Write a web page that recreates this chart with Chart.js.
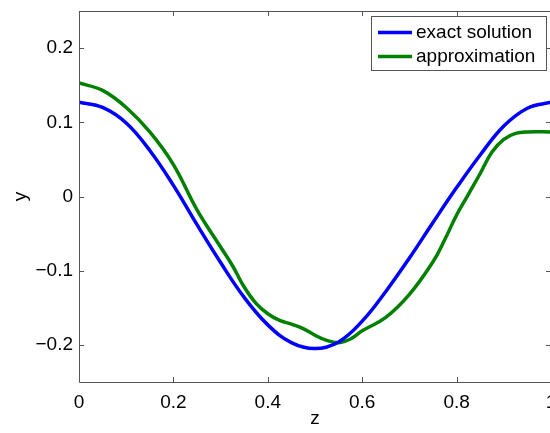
<!DOCTYPE html>
<html>
<head>
<meta charset="utf-8">
<script src="https://cdn.jsdelivr.net/npm/chart.js@4/dist/chart.umd.min.js"></script>
<style>
  html, body { margin: 0; padding: 0; background: #fff; overflow: hidden; }
  #wrap { width: 560px; height: 433px; }
</style>
</head>
<body>
<div id="wrap"><canvas id="chart" width="560" height="433"></canvas></div>
<script>
// ---- data ----
const seriesNames = ['exact solution', 'approximation'];

const zExact = [0, 0.05, 0.1, 0.15, 0.2, 0.25, 0.3, 0.35, 0.4, 0.45, 0.5,
                0.55, 0.6, 0.65, 0.7, 0.75, 0.8, 0.85, 0.9, 0.95, 1];
const yExact = [0.127, 0.120, 0.099, 0.062, 0.015, -0.038, -0.089, -0.136, -0.173, -0.197, -0.205,
                -0.196, -0.168, -0.128, -0.083, -0.035, 0.012, 0.056, 0.095, 0.119, 0.127];

const zApprox = [0, 0.05, 0.1, 0.15, 0.2, 0.25, 0.3, 0.325, 0.35, 0.375, 0.4, 0.425, 0.45, 0.475,
                 0.5, 0.525, 0.55, 0.575, 0.6, 0.65, 0.7, 0.75, 0.775, 0.8, 0.825, 0.85, 0.875, 0.9, 0.925, 0.95, 1];
const yApprox = [0.153, 0.143, 0.120, 0.087, 0.043, -0.018, -0.068, -0.093, -0.122, -0.144, -0.158, -0.167, -0.172, -0.178,
                 -0.187, -0.194, -0.197, -0.192, -0.181, -0.163, -0.132, -0.088, -0.058, -0.025, 0.003, 0.031, 0.060, 0.077, 0.085, 0.087, 0.087];

const xTicks = [0, 0.2, 0.4, 0.6, 0.8, 1];
const yTicks = [-0.2, -0.1, 0, 0.1, 0.2];
const xTitle = 'z';
const yTitle = 'y';

const FONT = '"Liberation Sans", Arial, Helvetica, sans-serif';
const FSIZE = 19;

function fmt(v) {
  const s = String(+v.toFixed(2));
  return v < 0 ? '\u2212' + s.slice(1) : s;
}

// MATLAB style box, inward ticks, axis titles and legend
const matlabBox = {
  id: 'matlabBox',
  afterDraw(chart) {
    const { ctx, chartArea: a, scales } = chart;
    const xs = scales.x, ys = scales.y;
    const t = 5;
    ctx.save();
    ctx.strokeStyle = '#555';
    ctx.lineWidth = 1;
    ctx.beginPath();
    ctx.rect(a.left + 0.5, a.top + 0.5, a.right - a.left, a.bottom - a.top);
    xTicks.forEach(v => {
      const px = Math.round(xs.getPixelForValue(v)) + 0.5;
      ctx.moveTo(px, a.bottom); ctx.lineTo(px, a.bottom - t);
      ctx.moveTo(px, a.top);    ctx.lineTo(px, a.top + t);
    });
    yTicks.forEach(v => {
      const py = Math.round(ys.getPixelForValue(v)) + 0.5;
      ctx.moveTo(a.left, py);  ctx.lineTo(a.left + t, py);
      ctx.moveTo(a.right, py); ctx.lineTo(a.right - t, py);
    });
    ctx.stroke();

    // axis titles
    ctx.fillStyle = '#000';
    ctx.font = FSIZE + 'px ' + FONT;
    ctx.textAlign = 'center';
    ctx.textBaseline = 'middle';
    ctx.fillText(xTitle, xs.getPixelForValue(0.5), 419);
    ctx.save();
    ctx.translate(21, ys.getPixelForValue(0));
    ctx.rotate(-Math.PI / 2);
    ctx.fillText(yTitle, 0, 0);
    ctx.restore();

    // legend
    const lx = 371, ly = 16, lw = 175, lh = 54;
    ctx.fillStyle = '#fff';
    ctx.fillRect(lx, ly, lw, lh);
    ctx.strokeStyle = '#555';
    ctx.strokeRect(lx + 0.5, ly + 0.5, lw, lh);
    ctx.textAlign = 'left';
    chart.data.datasets.forEach((ds, i) => {
      const y = 32.5 + i * 24;
      ctx.strokeStyle = ds.borderColor;
      ctx.lineWidth = 3.5;
      ctx.beginPath();
      ctx.moveTo(378, y); ctx.lineTo(412, y);
      ctx.stroke();
      ctx.fillStyle = '#000';
      ctx.fillText(ds.label, 416, y);
    });
    ctx.restore();
  }
};

new Chart(document.getElementById('chart'), {
  type: 'line',
  data: {
    datasets: [
      {
        label: seriesNames[0],
        data: zExact.map((z, i) => ({ x: z, y: yExact[i] })),
        borderColor: '#0000ff',
        borderWidth: 3.5,
        pointRadius: 0,
        tension: 0.4,
        fill: false
      },
      {
        label: seriesNames[1],
        data: zApprox.map((z, i) => ({ x: z, y: yApprox[i] })),
        borderColor: '#008000',
        borderWidth: 3.5,
        pointRadius: 0,
        tension: 0.4,
        fill: false
      }
    ]
  },
  options: {
    responsive: false,
    animation: false,
    devicePixelRatio: 1,
    layout: { autoPadding: false, padding: { top: 11, right: 9, left: 0, bottom: 0 } },
    plugins: { legend: { display: false }, tooltip: { enabled: false } },
    scales: {
      x: {
        type: 'linear',
        min: 0, max: 1,
        afterBuildTicks: s => { s.ticks = xTicks.map(v => ({ value: v })); },
        afterFit: s => { s.height = 51; s.paddingLeft = 0; s.paddingRight = 0; },
        grid: { display: false, drawTicks: false },
        border: { display: false },
        ticks: {
          padding: 9,
          color: '#000',
          font: { family: FONT, size: FSIZE },
          maxRotation: 0,
          callback: v => fmt(v)
        }
      },
      y: {
        type: 'linear',
        min: -0.25, max: 0.25,
        afterBuildTicks: s => { s.ticks = yTicks.map(v => ({ value: v })); },
        afterFit: s => { s.width = 79; s.paddingTop = 0; s.paddingBottom = 0; },
        grid: { display: false, drawTicks: false },
        border: { display: false },
        ticks: {
          padding: 6,
          color: '#000',
          font: { family: FONT, size: FSIZE },
          callback: v => fmt(v)
        }
      }
    }
  },
  plugins: [matlabBox]
});
</script>
</body>
</html>
